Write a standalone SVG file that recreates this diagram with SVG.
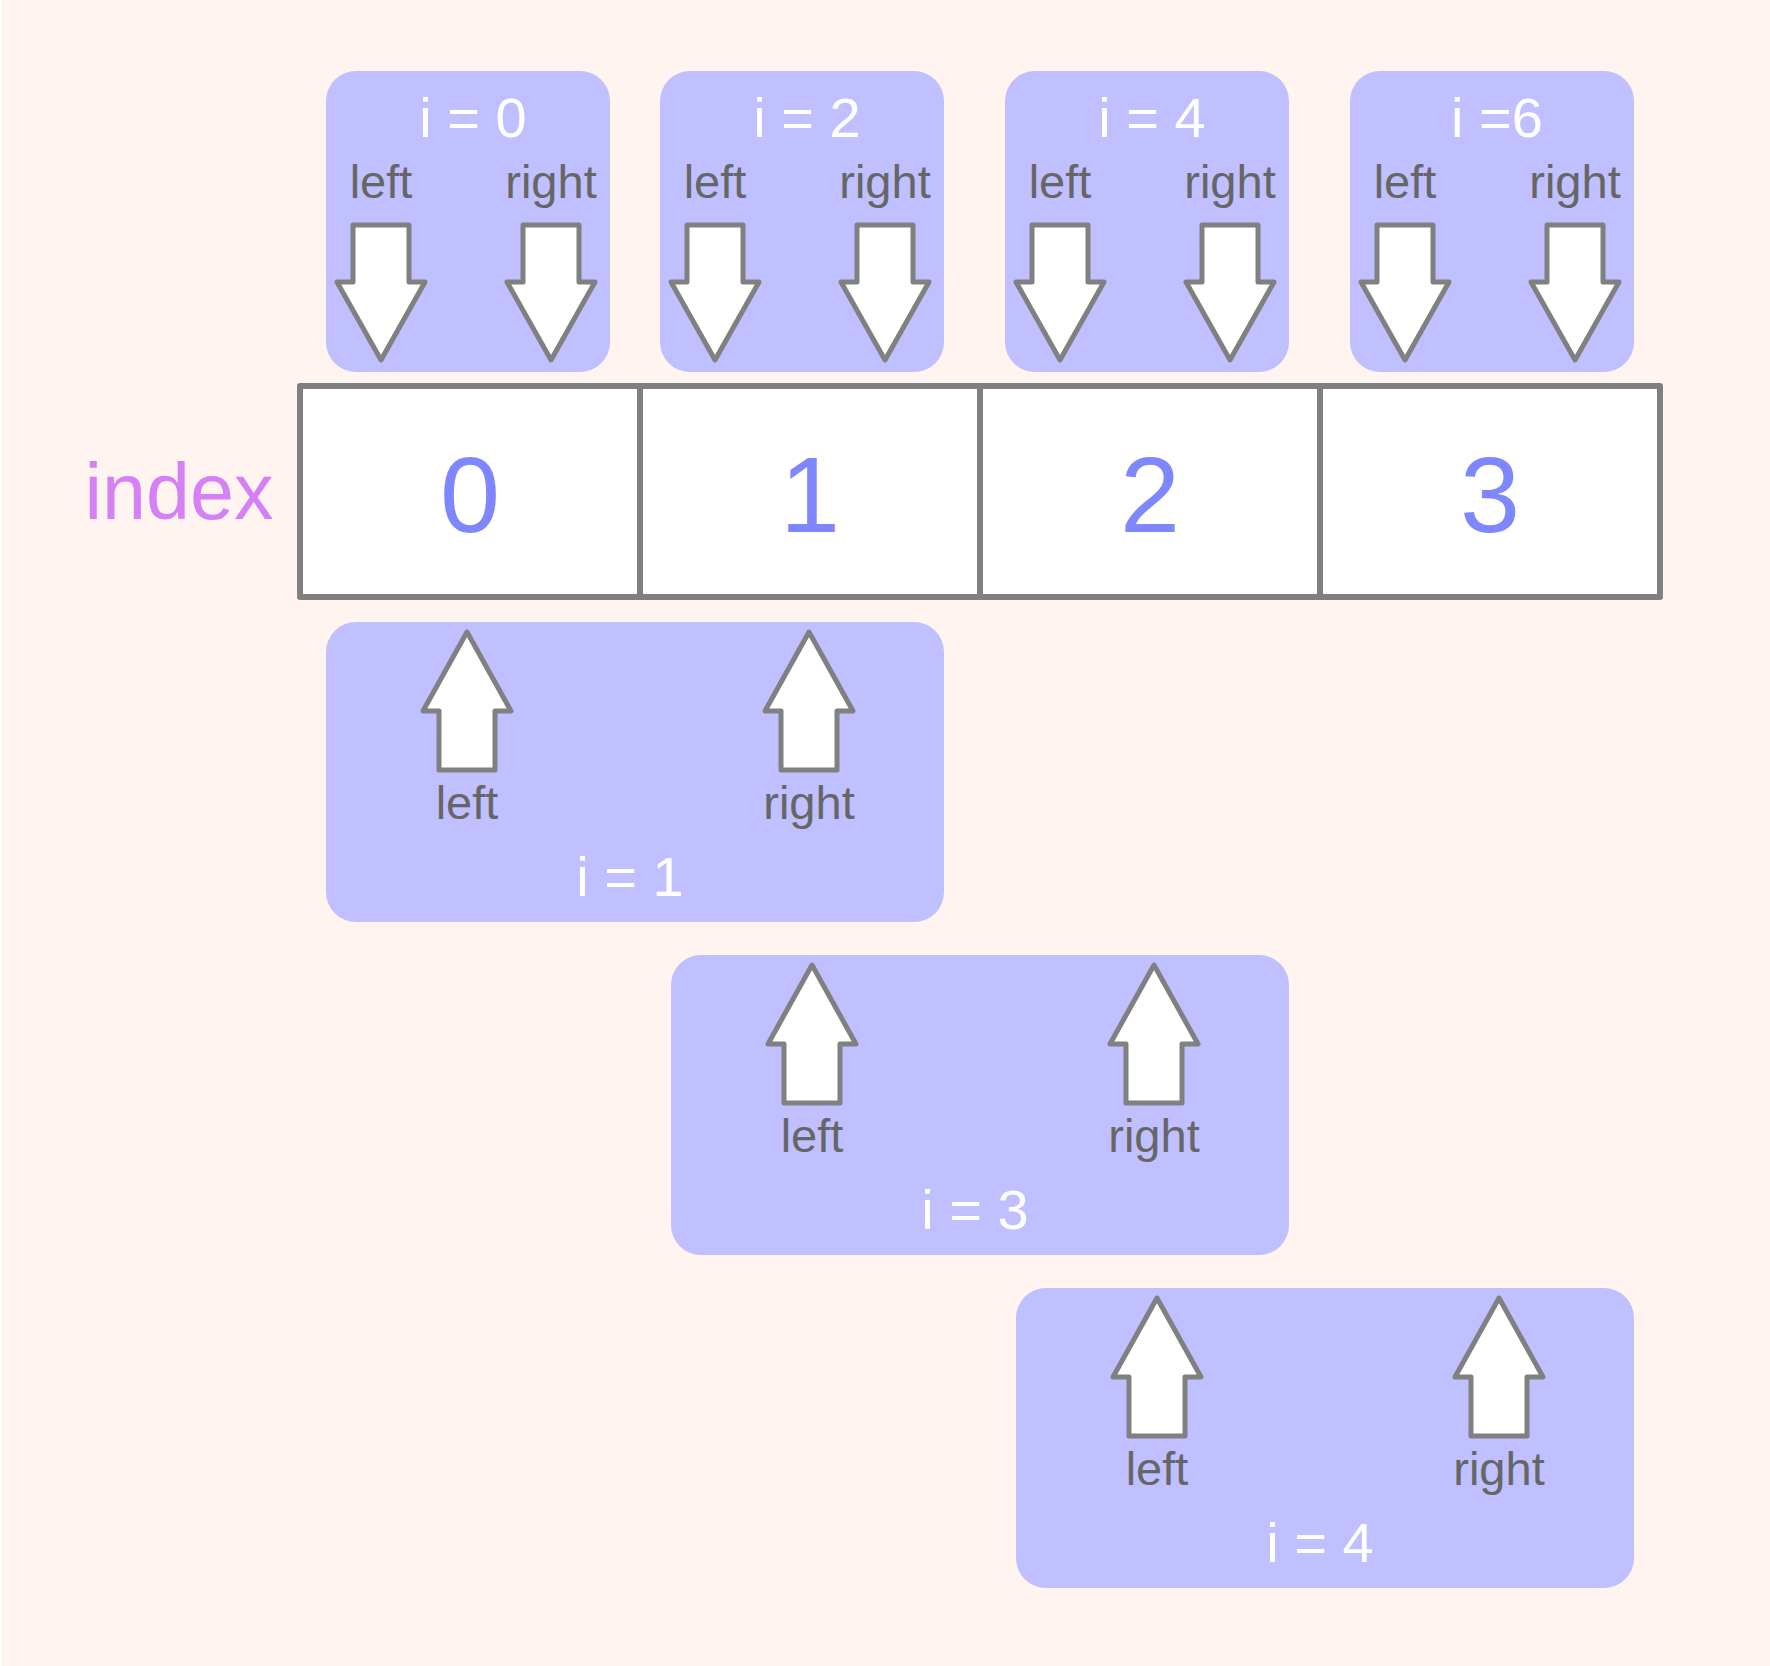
<svg xmlns="http://www.w3.org/2000/svg" width="1770" height="1666" viewBox="0 0 1770 1666">
<defs>
<style>
.bg{fill:#fff4f0}
.box{fill:#c0bfff}
.arrow{fill:#ffffff;stroke:#808080;stroke-width:5;stroke-linejoin:round}
.cell{fill:#ffffff;stroke:#808080;stroke-width:6;stroke-linejoin:round}
.iter{font-family:"Liberation Sans",Arial,sans-serif;font-size:56px;fill:#ffffff;text-anchor:middle}
.ptr{font-family:"Liberation Sans",Arial,sans-serif;font-size:47px;fill:#666666;text-anchor:middle}
.num{font-family:"Liberation Sans",Arial,sans-serif;font-size:108px;fill:#7f87ff;text-anchor:middle}
.idx{font-family:"Liberation Sans",Arial,sans-serif;font-size:79px;fill:#d680f5;text-anchor:middle}
</style>
<path id="down" class="arrow" d="M-28,0 H28 V57 H44 L0,135 L-44,57 H-28 Z"/>
<path id="up" class="arrow" d="M0,0 L44,79 H28 V138 H-28 V79 H-44 Z"/>
</defs>
<rect x="0" y="0" width="1770" height="1666" fill="#ffffff"/>
<rect class="bg" x="2" y="0" width="1768" height="1666"/>

<g id="index-label"><text class="idx" x="179" y="519">index</text></g>

<g id="array">
<rect class="cell" x="300" y="386" width="1360" height="211"/>
<line x1="640" y1="386" x2="640" y2="597" stroke="#808080" stroke-width="6"/>
<line x1="980" y1="386" x2="980" y2="597" stroke="#808080" stroke-width="6"/>
<line x1="1320" y1="386" x2="1320" y2="597" stroke="#808080" stroke-width="6"/>
<text class="num" x="470" y="532">0</text>
<text class="num" x="810" y="532">1</text>
<text class="num" x="1150" y="532">2</text>
<text class="num" x="1490" y="532">3</text>
</g>

<g id="step-i0">
<rect class="box" x="326" y="71" width="284" height="301" rx="30"/>
<text class="iter" x="473" y="137">i = 0</text>
<text class="ptr" x="381" y="198">left</text>
<text class="ptr" x="551" y="198">right</text>
</g>
<g id="step-i2">
<rect class="box" x="660" y="71" width="284" height="301" rx="30"/>
<text class="iter" x="807" y="137">i = 2</text>
<text class="ptr" x="715" y="198">left</text>
<text class="ptr" x="885" y="198">right</text>
</g>
<g id="step-i4-top">
<rect class="box" x="1005" y="71" width="284" height="301" rx="30"/>
<text class="iter" x="1152" y="137">i = 4</text>
<text class="ptr" x="1060" y="198">left</text>
<text class="ptr" x="1230" y="198">right</text>
</g>
<g id="step-i6">
<rect class="box" x="1350" y="71" width="284" height="301" rx="30"/>
<text class="iter" x="1497" y="137">i =6</text>
<text class="ptr" x="1405" y="198">left</text>
<text class="ptr" x="1575" y="198">right</text>
</g>

<g id="step-i1">
<rect class="box" x="326" y="622" width="618" height="300" rx="30"/>
<text class="ptr" x="467" y="819">left</text>
<text class="ptr" x="809" y="819">right</text>
<text class="iter" x="630" y="896">i = 1</text>
</g>
<g id="step-i3">
<rect class="box" x="671" y="955" width="618" height="300" rx="30"/>
<text class="ptr" x="812" y="1152">left</text>
<text class="ptr" x="1154" y="1152">right</text>
<text class="iter" x="975" y="1229">i = 3</text>
</g>
<g id="step-i4-bottom">
<rect class="box" x="1016" y="1288" width="618" height="300" rx="30"/>
<text class="ptr" x="1157" y="1485">left</text>
<text class="ptr" x="1499" y="1485">right</text>
<text class="iter" x="1320" y="1562">i = 4</text>
</g>

<g id="connectors">
<use href="#down" x="381" y="225"/>
<use href="#down" x="551" y="225"/>
<use href="#down" x="715" y="225"/>
<use href="#down" x="885" y="225"/>
<use href="#down" x="1060" y="225"/>
<use href="#down" x="1230" y="225"/>
<use href="#down" x="1405" y="225"/>
<use href="#down" x="1575" y="225"/>
<use href="#up" x="467" y="632"/>
<use href="#up" x="809" y="632"/>
<use href="#up" x="812" y="965"/>
<use href="#up" x="1154" y="965"/>
<use href="#up" x="1157" y="1298"/>
<use href="#up" x="1499" y="1298"/>
</g>
</svg>
